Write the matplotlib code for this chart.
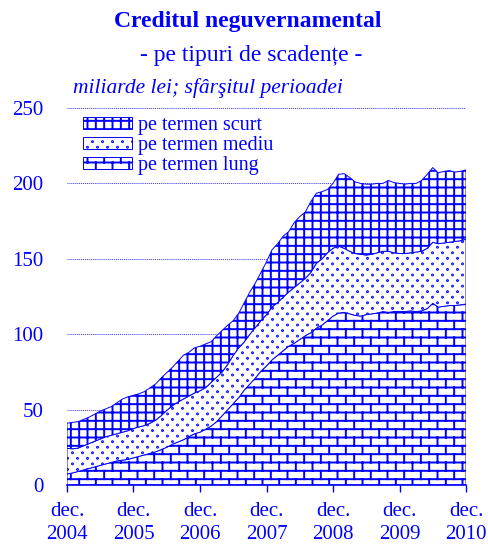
import warnings
warnings.filterwarnings('ignore')
import numpy as np
import matplotlib
matplotlib.use('Agg')
import matplotlib.pyplot as plt
from matplotlib import hatch as mhatch
from matplotlib.path import Path

# ---------------- data (mld. lei, end of month, dec 2004 .. dec 2010) ----------------
long_term = [7.3, 8, 9, 10, 11, 12, 13, 14, 15, 16, 16.5, 17,
             18, 19, 20, 21, 22, 23.5, 25, 27, 28.5, 30, 32, 34,
             35, 37, 39, 42, 46, 50, 54, 58, 63, 67, 71, 75.5,
             79, 83, 86, 89, 92, 94, 96.5, 99, 101, 104, 106, 109,
             112, 114, 114.5, 113.5, 112.5, 112, 113, 113.5, 114, 115, 114.5, 115,
             115, 115, 115.5, 115, 115.5, 117, 120.5, 118, 118.5, 119, 119, 119.5,
             120]
medium_term = [17, 16, 15.5, 16, 16.5, 17, 17.5, 18, 18, 18, 18.5, 19,
               19.5, 19.5, 19.5, 20, 21, 22.5, 24.5, 25.5, 26.5, 27, 27, 27,
               27.5, 27.5, 29, 29.5, 29, 30, 32, 33, 32, 33, 33.5, 33.5,
               34, 35, 35, 35.5, 36, 37, 37.5, 38, 40, 43, 44, 45,
               45, 44.5, 42.5, 41.5, 41, 41, 39.5, 39.5, 40, 40, 40.5, 39,
               38.5, 38.5, 38.5, 39.5, 39.5, 40, 40.5, 42, 42, 42, 42.5, 42.5,
               43]
short_term = [16.7, 17.5, 17.5, 17.5, 17.5, 18, 18.5, 18.5, 19, 20.5, 22, 22.5,
              22, 22, 22.5, 23.5, 24, 25, 25, 25.5, 27, 29, 29, 30,
              29.5, 29, 27, 27.5, 27.5, 26, 23, 23, 26, 28, 29.5, 32,
              35, 38, 39, 40.5, 40, 43, 44, 44, 47, 46.5, 44.5, 42,
              43, 47.5, 49.5, 49, 47.5, 47, 47, 46.5, 46, 45, 47, 46.5,
              46.5, 46, 46, 45.5, 47, 49, 49.5, 47, 47.5, 47.5, 46, 46,
              46]
years = ['2004', '2005', '2006', '2007', '2008', '2009', '2010']
series_labels = ['pe termen scurt', 'pe termen mediu', 'pe termen lung']
y_ticks = [0, 50, 100, 150, 200, 250]

BLUE = '#0000FF'


# ---------------- custom hatch patterns ----------------
class BrickHatch(mhatch.HatchPatternBase):
    def __init__(self, hatch, density):
        n = hatch.count('b')
        self.rows = 12 * n
        self.cols = 6 * n
        self.num_vertices = (2 * self.rows + 2 * (self.rows + 1) * self.cols) if n else 0

    def set_vertices_and_codes(self, vertices, codes):
        r, c = self.rows, self.cols
        ys = (np.arange(r) + 0.5) / r
        segs = []
        for y in ys:
            segs.append(((0.0, y), (1.0, y)))
        for i in range(r):
            off = 0.5 * (i % 2)
            xs = (np.arange(c) + 0.25 + off) / c
            if i < r - 1:
                for x in xs:
                    segs.append(((x, ys[i]), (x, ys[i + 1])))
            else:
                for x in xs:
                    segs.append(((x, ys[i]), (x, 1.0)))
                    segs.append(((x, 0.0), (x, ys[0])))
        vertices[:] = np.array(segs).reshape(-1, 2)
        codes[0::2] = Path.MOVETO
        codes[1::2] = Path.LINETO


class DotHatch(mhatch.HatchPatternBase):
    def __init__(self, hatch, density):
        n = hatch.count('d')
        self.rows = 18 * n
        self.cols = 10 * n
        circ = Path.unit_circle()
        self.cv = circ.vertices
        self.cc = circ.codes
        self.rad = 0.0045
        self.num_vertices = self.rows * self.cols * len(self.cv) if n else 0

    def set_vertices_and_codes(self, vertices, codes):
        k = len(self.cv)
        idx = 0
        for i in range(self.rows):
            y = (i + 0.5) / self.rows
            off = 0.5 * (i % 2)
            for j in range(self.cols):
                x = (j + 0.25 + off) / self.cols
                vertices[idx:idx + k] = self.cv * self.rad + (x, y)
                codes[idx:idx + k] = self.cc
                idx += k


mhatch._hatch_types.append(BrickHatch)
mhatch._hatch_types.append(DotHatch)

plt.rcParams['font.family'] = ['Liberation Serif', 'DejaVu Serif']
plt.rcParams['hatch.linewidth'] = 1.4
plt.rcParams['hatch.color'] = BLUE

fig = plt.figure(figsize=(4.89, 5.45), dpi=100)
ax = fig.add_axes([0.1370, 0.1101, 0.8160, 0.6917])

x = np.arange(len(long_term))
lt = np.array(long_term)
mt = lt + np.array(medium_term)
tt = mt + np.array(short_term)

p_long = ax.fill_between(x, 0, lt, facecolor='white', edgecolor=BLUE, hatch='b',
                         linewidth=0.7, zorder=3)
p_med = ax.fill_between(x, lt, mt, facecolor='white', edgecolor=BLUE, hatch='d',
                        linewidth=0.7, zorder=3)
p_short = ax.fill_between(x, mt, tt, facecolor='white', edgecolor=BLUE, hatch='++',
                          linewidth=0.7, zorder=3)

ax.set_xlim(0, len(long_term) - 1)
ax.set_ylim(0, 250)
ax.set_yticks(y_ticks)
ax.set_yticklabels([str(v) for v in y_ticks])
ax.set_xticks(np.arange(0, len(long_term), 12))
ax.set_xticklabels(['dec.\n' + y for y in years])

for s in ['top', 'right', 'left']:
    ax.spines[s].set_visible(False)
ax.spines['bottom'].set_color(BLUE)
ax.spines['bottom'].set_linewidth(1.2)
ax.spines['bottom'].set_zorder(4)

ax.tick_params(axis='y', length=0, pad=17, labelsize=15, labelcolor=BLUE)
ax.tick_params(axis='x', length=5, width=1, color=BLUE, pad=7, labelsize=15,
               labelcolor=BLUE, direction='out')
for lab in ax.get_xticklabels():
    lab.set_linespacing(1.3)

ax.yaxis.grid(True, color=BLUE, linestyle=(0, (1, 1)), linewidth=0.7, alpha=0.8)
ax.set_axisbelow(True)
ax.patch.set_alpha(0)

leg = ax.legend([p_short, p_med, p_long], series_labels, loc='upper left',
                bbox_to_anchor=(83 / 489, 1 - 116 / 545), bbox_transform=fig.transFigure,
                frameon=False, fontsize=14.5, labelcolor=BLUE, handlelength=2.45,
                handleheight=0.5, handletextpad=0.3, labelspacing=0.05,
                borderpad=0, borderaxespad=0)

fig.text(248 / 489, 1 - 22 / 545, 'Creditul neguvernamental', ha='center', va='center',
         fontsize=17, fontweight='bold', color=BLUE)
fig.text(251 / 489, 1 - 55 / 545, '- pe tipuri de scadențe -', ha='center', va='center',
         fontsize=17, color=BLUE)
fig.text(73 / 489, 1 - 88 / 545, 'miliarde lei; sfârşitul perioadei', ha='left', va='center',
         fontsize=15.5, fontstyle='italic', color=BLUE)

fig.savefig('out.png', dpi=100, facecolor='white')
